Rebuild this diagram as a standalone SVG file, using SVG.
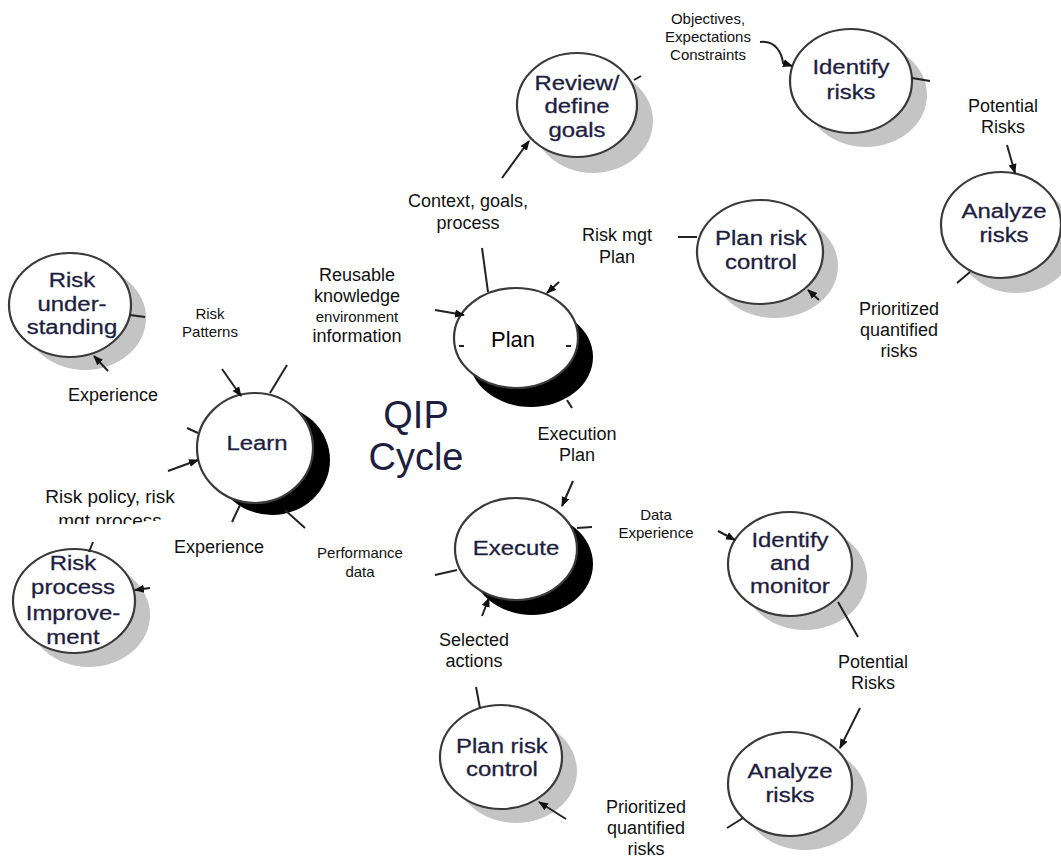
<svg xmlns="http://www.w3.org/2000/svg" width="1061" height="859" viewBox="0 0 1061 859">
<style>
  .node { fill:#fff; stroke:#3a3a3a; stroke-width:2.2; }
  .shadow { fill:#c4c4c4; }
  .dark { fill:#000; }
  .nt { font-family:"Liberation Sans",Arial,sans-serif; font-size:21px; fill:#1e1e40; stroke:#1e1e40; stroke-width:0.3; text-anchor:middle;
        transform:scaleX(1.14); transform-box:fill-box; transform-origin:50% 50%; }
  .pl { font-family:"Liberation Sans",Arial,sans-serif; font-size:22px; fill:#000; text-anchor:middle; }
  .lb { font-family:"Liberation Sans",Arial,sans-serif; font-size:18px; fill:#111; text-anchor:middle; }
  .sm { font-size:15px; }
  .big { font-size:19px; }
  .qip { font-family:"Liberation Sans",Arial,sans-serif; font-size:38px; fill:#1e1e40; text-anchor:middle; }
  #connectors line, #connectors path { stroke:#222; stroke-width:2; fill:none; }
  .arr { marker-end:url(#ah); }
</style>
<defs>
  <marker id="ah" viewBox="0 0 10 10" markerWidth="10" markerHeight="10" refX="9" refY="5" orient="auto" markerUnits="userSpaceOnUse">
    <path d="M0,1 L10,5 L0,9 z" fill="#111"/>
  </marker>
  <clipPath id="cutPolicy"><path d="M0,470 H230 V521 H145 V524 H0 Z"/></clipPath>
</defs>

<!-- QIP cycle title -->
<g id="title">
  <text class="qip" x="416" y="428">QIP</text>
  <text class="qip" x="416" y="470">Cycle</text>
</g>

<!-- central QIP nodes with dark crescent shadow -->
<g id="plan">
  <ellipse class="dark" cx="531" cy="357" rx="62" ry="50"/>
  <ellipse class="node" cx="516" cy="338" rx="62" ry="50"/>
  <text class="pl" x="513" y="347">Plan</text>
</g>
<g id="learn">
  <ellipse class="dark" cx="272" cy="460" rx="58" ry="55"/>
  <ellipse class="node" cx="255" cy="448" rx="58" ry="55"/>
  <text class="nt" x="257" y="450">Learn</text>
</g>
<g id="execute">
  <ellipse class="dark" cx="532" cy="564" rx="61" ry="51"/>
  <ellipse class="node" cx="516" cy="549" rx="61" ry="51"/>
  <text class="nt" x="516" y="555">Execute</text>
</g>

<!-- sub-process nodes with soft grey shadow -->
<g id="review-goals">
  <ellipse class="shadow" cx="593" cy="121" rx="60" ry="52"/>
  <ellipse class="node" cx="577" cy="105" rx="60" ry="52"/>
  <text class="nt" x="577" y="90">Review/</text>
  <text class="nt" x="577" y="113">define</text>
  <text class="nt" x="577" y="137">goals</text>
</g>
<g id="identify-risks">
  <ellipse class="shadow" cx="866" cy="95" rx="61" ry="52"/>
  <ellipse class="node" cx="851" cy="81" rx="61" ry="52"/>
  <text class="nt" x="851" y="74">Identify</text>
  <text class="nt" x="851" y="99">risks</text>
</g>
<g id="analyze-risks-top">
  <ellipse class="shadow" cx="1016" cy="240" rx="60" ry="53"/>
  <ellipse class="node" cx="1001" cy="225" rx="60" ry="53"/>
  <text class="nt" x="1004" y="218">Analyze</text>
  <text class="nt" x="1004" y="242">risks</text>
</g>
<g id="plan-risk-control-top">
  <ellipse class="shadow" cx="775" cy="266" rx="63" ry="52"/>
  <ellipse class="node" cx="760" cy="252" rx="63" ry="52"/>
  <text class="nt" x="761" y="245">Plan risk</text>
  <text class="nt" x="761" y="269">control</text>
</g>
<g id="identify-monitor">
  <ellipse class="shadow" cx="805" cy="578" rx="62" ry="52"/>
  <ellipse class="node" cx="790" cy="564" rx="62" ry="52"/>
  <text class="nt" x="790" y="547">Identify</text>
  <text class="nt" x="790" y="570">and</text>
  <text class="nt" x="790" y="593">monitor</text>
</g>
<g id="analyze-risks-bottom">
  <ellipse class="shadow" cx="805" cy="798" rx="62" ry="52"/>
  <ellipse class="node" cx="790" cy="784" rx="62" ry="52"/>
  <text class="nt" x="790" y="778">Analyze</text>
  <text class="nt" x="790" y="802">risks</text>
</g>
<g id="plan-risk-control-bottom">
  <ellipse class="shadow" cx="516" cy="771" rx="61" ry="52"/>
  <ellipse class="node" cx="501" cy="757" rx="61" ry="52"/>
  <text class="nt" x="502" y="753">Plan risk</text>
  <text class="nt" x="502" y="776">control</text>
</g>
<g id="risk-understanding">
  <ellipse class="shadow" cx="85" cy="318" rx="61" ry="52"/>
  <ellipse class="node" cx="70" cy="305" rx="61" ry="52"/>
  <text class="nt" x="72" y="287">Risk</text>
  <text class="nt" x="72" y="311">under-</text>
  <text class="nt" x="72" y="334">standing</text>
</g>
<g id="risk-process-improvement">
  <ellipse class="shadow" cx="89" cy="615" rx="61" ry="52"/>
  <ellipse class="node" cx="74" cy="601" rx="61" ry="52"/>
  <text class="nt" x="73" y="570">Risk</text>
  <text class="nt" x="73" y="594">process</text>
  <text class="nt" x="73" y="620">Improve-</text>
  <text class="nt" x="73" y="644">ment</text>
</g>

<!-- flow stubs and arrows -->
<g id="connectors">
  <path class="arr" d="M760,42 C776,40 782,54 783,63 L792,66"/>
  <line x1="912" y1="78" x2="930" y2="81"/>
  <line class="arr" x1="1007" y1="145" x2="1015" y2="173"/>
  <line x1="970" y1="272" x2="957" y2="283"/>
  <line class="arr" x1="819" y1="300" x2="808" y2="290"/>
  <line x1="678" y1="237" x2="697" y2="237"/>
  <line class="arr" x1="559" y1="282" x2="547" y2="293"/>
  <line x1="482" y1="248" x2="488" y2="292"/>
  <line class="arr" x1="502" y1="178" x2="529" y2="141"/>
  <line x1="634" y1="80" x2="641" y2="76"/>
  <line class="arr" x1="435" y1="310" x2="464" y2="315"/>
  <line x1="459" y1="346" x2="464" y2="346"/>
  <line x1="566" y1="346" x2="571" y2="346"/>
  <line x1="567" y1="400" x2="572" y2="408"/>
  <line class="arr" x1="573" y1="481" x2="562" y2="506"/>
  <line x1="577" y1="528" x2="592" y2="527"/>
  <line class="arr" x1="718" y1="531" x2="735" y2="540"/>
  <line x1="838" y1="602" x2="858" y2="637"/>
  <line class="arr" x1="860" y1="708" x2="840" y2="748"/>
  <line x1="743" y1="818" x2="727" y2="828"/>
  <line class="arr" x1="566" y1="819" x2="539" y2="802"/>
  <line x1="476" y1="687" x2="480" y2="708"/>
  <line class="arr" x1="482" y1="616" x2="489" y2="598"/>
  <line x1="435" y1="575" x2="457" y2="570"/>
  <line x1="285" y1="510" x2="305" y2="528"/>
  <line x1="240" y1="505" x2="232" y2="522"/>
  <line class="arr" x1="168" y1="471" x2="198" y2="460"/>
  <line x1="187" y1="428" x2="198" y2="433"/>
  <line class="arr" x1="222" y1="369" x2="241" y2="396"/>
  <line x1="287" y1="365" x2="270" y2="393"/>
  <line x1="130" y1="315" x2="145" y2="317"/>
  <line class="arr" x1="108" y1="371" x2="94" y2="356"/>
  <line x1="89" y1="552" x2="93" y2="542"/>
  <line class="arr" x1="150" y1="588" x2="135" y2="590"/>
</g>

<!-- flow labels -->
<g id="labels">
  <text class="lb sm" x="708" y="24">Objectives,</text>
  <text class="lb sm" x="708" y="42">Expectations</text>
  <text class="lb sm" x="708" y="60">Constraints</text>
  <text class="lb" x="1003" y="112">Potential</text>
  <text class="lb" x="1003" y="133">Risks</text>
  <text class="lb" x="899" y="315">Prioritized</text>
  <text class="lb" x="899" y="336">quantified</text>
  <text class="lb" x="899" y="357">risks</text>
  <text class="lb" x="617" y="241">Risk mgt</text>
  <text class="lb" x="617" y="263">Plan</text>
  <text class="lb" x="468" y="207">Context, goals,</text>
  <text class="lb" x="468" y="229">process</text>
  <text class="lb" x="357" y="281">Reusable</text>
  <text class="lb" x="357" y="302">knowledge</text>
  <text class="lb sm" x="357" y="322">environment</text>
  <text class="lb" x="357" y="342">information</text>
  <text class="lb sm" x="210" y="319">Risk</text>
  <text class="lb sm" x="210" y="337">Patterns</text>
  <text class="lb" x="113" y="401">Experience</text>
  <g clip-path="url(#cutPolicy)">
    <text class="lb big" x="110" y="503">Risk policy, risk</text>
    <text class="lb big" x="110" y="527">mgt process</text>
  </g>
  <text class="lb" x="219" y="553">Experience</text>
  <text class="lb sm" x="360" y="558">Performance</text>
  <text class="lb sm" x="360" y="577">data</text>
  <text class="lb" x="577" y="440">Execution</text>
  <text class="lb" x="577" y="461">Plan</text>
  <text class="lb sm" x="656" y="520">Data</text>
  <text class="lb sm" x="656" y="538">Experience</text>
  <text class="lb" x="474" y="646">Selected</text>
  <text class="lb" x="474" y="667">actions</text>
  <text class="lb" x="873" y="668">Potential</text>
  <text class="lb" x="873" y="689">Risks</text>
  <text class="lb" x="646" y="813">Prioritized</text>
  <text class="lb" x="646" y="834">quantified</text>
  <text class="lb" x="646" y="855">risks</text>
</g>
</svg>
